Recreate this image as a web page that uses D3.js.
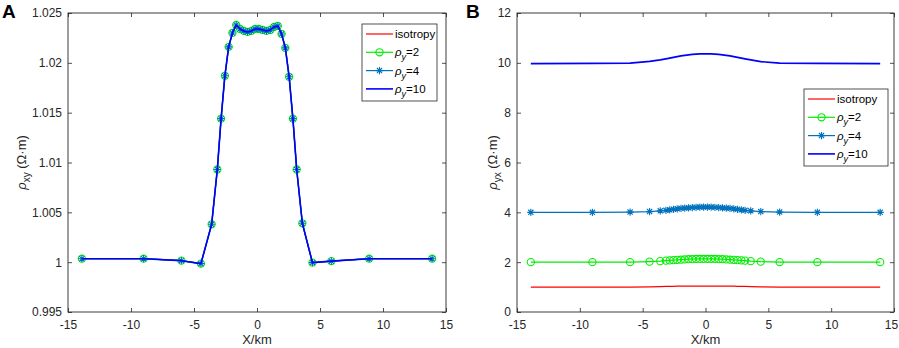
<!DOCTYPE html>
<html>
<head>
<meta charset="utf-8">
<script src="https://cdn.jsdelivr.net/npm/d3@7"></script>
<style>
  body { margin: 0; background: #fff; }
  svg { display: block; font-family: "Liberation Sans", Arial, sans-serif; }
</style>
</head>
<body>
<svg id="chart" width="899" height="348"></svg>
<script>
// Profile positions (km), shared by both panels
const xKm = [-13.9, -9, -6, -4.45, -3.6, -3.15, -2.85, -2.55, -2.25, -1.95, -1.65, -1.35, -1.05, -0.75, -0.45, -0.15,
             0.15, 0.45, 0.75, 1.05, 1.35, 1.65, 1.95, 2.25, 2.55, 2.85, 3.15, 3.6, 4.4, 5.9, 8.9, 13.9];

// Panel A: rho_xy - the four curves lie on top of each other
const rhoXY = [1.00035, 1.00035, 1.00015, 0.99985, 1.0038, 1.0093, 1.0144, 1.0187, 1.0216, 1.0230, 1.0238, 1.0234, 1.0232, 1.0231, 1.0232, 1.0234,
               1.0234, 1.0233, 1.0232, 1.0233, 1.0236, 1.0237, 1.0229, 1.0215, 1.0186, 1.0144, 1.0093, 1.0039, 0.99995, 1.0001, 1.00035, 1.00035];

// Panel B: rho_yx
const rhoYX_iso = [1.0, 1.0, 1.0, 1.01, 1.02, 1.03, 1.03, 1.03, 1.04, 1.04, 1.04, 1.04, 1.04, 1.04, 1.04, 1.04,
                   1.04, 1.04, 1.04, 1.04, 1.04, 1.04, 1.04, 1.04, 1.03, 1.03, 1.03, 1.02, 1.01, 1.0, 1.0, 1.0];
const rhoYX_2 = [2.0, 2.0, 2.0, 2.02, 2.04, 2.06, 2.07, 2.08, 2.09, 2.10, 2.11, 2.12, 2.12, 2.13, 2.13, 2.13,
                 2.13, 2.13, 2.13, 2.12, 2.12, 2.11, 2.10, 2.09, 2.08, 2.07, 2.06, 2.04, 2.02, 2.0, 2.0, 2.0];
const rhoYX_4 = [4.0, 4.0, 4.01, 4.03, 4.06, 4.08, 4.10, 4.12, 4.14, 4.16, 4.17, 4.18, 4.19, 4.20, 4.21, 4.21,
                 4.21, 4.21, 4.20, 4.19, 4.18, 4.17, 4.16, 4.14, 4.12, 4.10, 4.08, 4.06, 4.03, 4.01, 4.0, 4.0];
const rhoYX_10 = [9.97, 9.98, 9.99, 10.06, 10.12, 10.16, 10.19, 10.22, 10.25, 10.28, 10.30, 10.32, 10.34, 10.35, 10.36, 10.36,
                  10.36, 10.36, 10.35, 10.34, 10.32, 10.30, 10.28, 10.25, 10.22, 10.19, 10.16, 10.12, 10.05, 9.99, 9.98, 9.97];

const xTicks = [-15, -10, -5, 0, 5, 10, 15];
const yTicksA = [0.995, 1, 1.005, 1.01, 1.015, 1.02, 1.025];
const yTicksB = [0, 2, 4, 6, 8, 10, 12];
const legendLabels = ["isotropy", "=2", "=4", "=10"];

const AX = "#262626";
const svg = d3.select("#chart");

const styles = [
  { color: "#ff0000", width: 1.2, marker: null },
  { color: "#00ee00", width: 1.2, marker: "circle" },
  { color: "#0072bd", width: 1.2, marker: "star" },
  { color: "#0000ff", width: 1.6, marker: null }
];

function starPath(r) {
  const d = r * 0.72;
  return `M${-r},0L${r},0M0,${-r}L0,${r}M${-d},${-d}L${d},${d}M${-d},${d}L${d},${-d}`;
}

function drawMarker(g, kind, color, x, y) {
  if (kind === "circle") {
    g.append("circle").attr("cx", x).attr("cy", y).attr("r", 3.6)
      .attr("fill", "none").attr("stroke", color).attr("stroke-width", 1.1);
  } else if (kind === "star") {
    g.append("path").attr("transform", `translate(${x},${y})`).attr("d", starPath(3.6))
      .attr("fill", "none").attr("stroke", color).attr("stroke-width", 1.1);
  }
}

function drawPanel(cfg) {
  const { left, right, top, bottom } = cfg.box;
  const w = right - left, h = bottom - top;
  const g = svg.append("g").attr("transform", `translate(${left},${top})`);

  const x = d3.scaleLinear().domain([-15, 15]).range([0, w]);
  const y = d3.scaleLinear().domain(cfg.yDomain).range([h, 0]);

  // series
  const line = d3.line().x((d, i) => x(xKm[i])).y(d => y(d));
  cfg.series.forEach((vals, k) => {
    const st = styles[k];
    g.append("path").datum(vals).attr("d", line)
      .attr("fill", "none").attr("stroke", st.color).attr("stroke-width", st.width)
      .attr("stroke-linejoin", "round");
    if (st.marker) {
      const mg = g.append("g");
      vals.forEach((v, i) => drawMarker(mg, st.marker, st.color, x(xKm[i]), y(v)));
    }
  });

  // axes with inward ticks on all four sides (plain hyphen minus like MATLAB)
  const tick = 4;
  const bx = g.append("g").attr("transform", `translate(0,${h})`)
    .call(d3.axisBottom(x).tickValues(xTicks).tickSizeInner(-tick).tickSizeOuter(0).tickPadding(8).tickFormat(d => String(d)));
  const tx = g.append("g")
    .call(d3.axisTop(x).tickValues(xTicks).tickSizeInner(-tick).tickSizeOuter(0).tickFormat(""));
  const ly = g.append("g")
    .call(d3.axisLeft(y).tickValues(cfg.yTicks).tickSizeInner(-tick).tickSizeOuter(0).tickPadding(6).tickFormat(d => String(d)));
  const ry = g.append("g").attr("transform", `translate(${w},0)`)
    .call(d3.axisRight(y).tickValues(cfg.yTicks).tickSizeInner(-tick).tickSizeOuter(0).tickFormat(""));
  [bx, tx, ly, ry].forEach(a => {
    a.select(".domain").remove();
    a.selectAll(".tick line").attr("stroke", AX).attr("stroke-width", 0.8);
    a.selectAll(".tick text").attr("fill", AX).style("font-size", "12px")
      .style("font-family", "'Liberation Sans', Arial, sans-serif");
  });
  // keep the last x label inside the page
  if (cfg.nudgeLast) bx.selectAll(".tick text").filter(d => d === 15).attr("dx", -3);

  g.append("rect").attr("x", 0).attr("y", 0).attr("width", w).attr("height", h)
    .attr("fill", "none").attr("stroke", AX).attr("stroke-width", 0.9);

  // axis titles
  g.append("text").attr("x", w / 2).attr("y", h + 32).attr("text-anchor", "middle")
    .attr("fill", AX).style("font-size", "13px").text("X/km");

  const yl = g.append("text")
    .attr("transform", `translate(${cfg.yLabelX - left},${h / 2}) rotate(-90)`)
    .attr("text-anchor", "middle").attr("fill", AX).style("font-size", "13px");
  yl.append("tspan").style("font-style", "italic").text("ρ");
  yl.append("tspan").attr("dy", 4).style("font-size", "10px").text(cfg.sub);
  yl.append("tspan").attr("dy", -4).text(" (Ω·m)");

  // panel letter
  svg.append("text").attr("x", cfg.letterX).attr("y", 18).attr("fill", "#000")
    .style("font-size", "19px").style("font-weight", "bold").text(cfg.letter);

  // legend
  const lb = cfg.legend;
  const lg = svg.append("g");
  lg.append("rect").attr("x", lb.x0).attr("y", lb.y0).attr("width", lb.x1 - lb.x0).attr("height", lb.y1 - lb.y0)
    .attr("fill", "#fff").attr("stroke", AX).attr("stroke-width", 0.8);
  legendLabels.forEach((lab, k) => {
    const st = styles[k];
    const ry0 = lb.y0 + 10 + k * 18.3;
    const lx0 = lb.x0 + 4, lx1 = lb.x0 + 31;
    lg.append("line").attr("x1", lx0).attr("x2", lx1).attr("y1", ry0).attr("y2", ry0)
      .attr("stroke", st.color).attr("stroke-width", st.width);
    if (st.marker) drawMarker(lg, st.marker, st.color, (lx0 + lx1) / 2, ry0);
    const t = lg.append("text").attr("x", lx1 + 2).attr("y", ry0 + 4).attr("fill", "#000").style("font-size", "11.5px");
    if (k === 0) {
      t.text(lab);
    } else {
      t.append("tspan").style("font-style", "italic").text("ρ");
      t.append("tspan").attr("dy", 4).style("font-size", "9px").style("font-style", "italic").text("y");
      t.append("tspan").attr("dy", -4).text(lab);
    }
  });
}

drawPanel({
  box: { left: 68, right: 446, top: 13, bottom: 312 },
  yDomain: [0.995, 1.025], yTicks: yTicksA,
  series: [rhoXY, rhoXY, rhoXY, rhoXY],
  sub: "xy", yLabelX: 26, letter: "A", letterX: 2,
  legend: { x0: 362, x1: 437, y0: 24, y1: 101 }
});

drawPanel({
  box: { left: 517, right: 894, top: 13, bottom: 312 },
  yDomain: [0, 12], yTicks: yTicksB,
  series: [rhoYX_iso, rhoYX_2, rhoYX_4, rhoYX_10],
  sub: "yx", yLabelX: 497, letter: "B", letterX: 466, nudgeLast: true,
  legend: { x0: 804, x1: 888, y0: 89, y1: 166 }
});
</script>
</body>
</html>
